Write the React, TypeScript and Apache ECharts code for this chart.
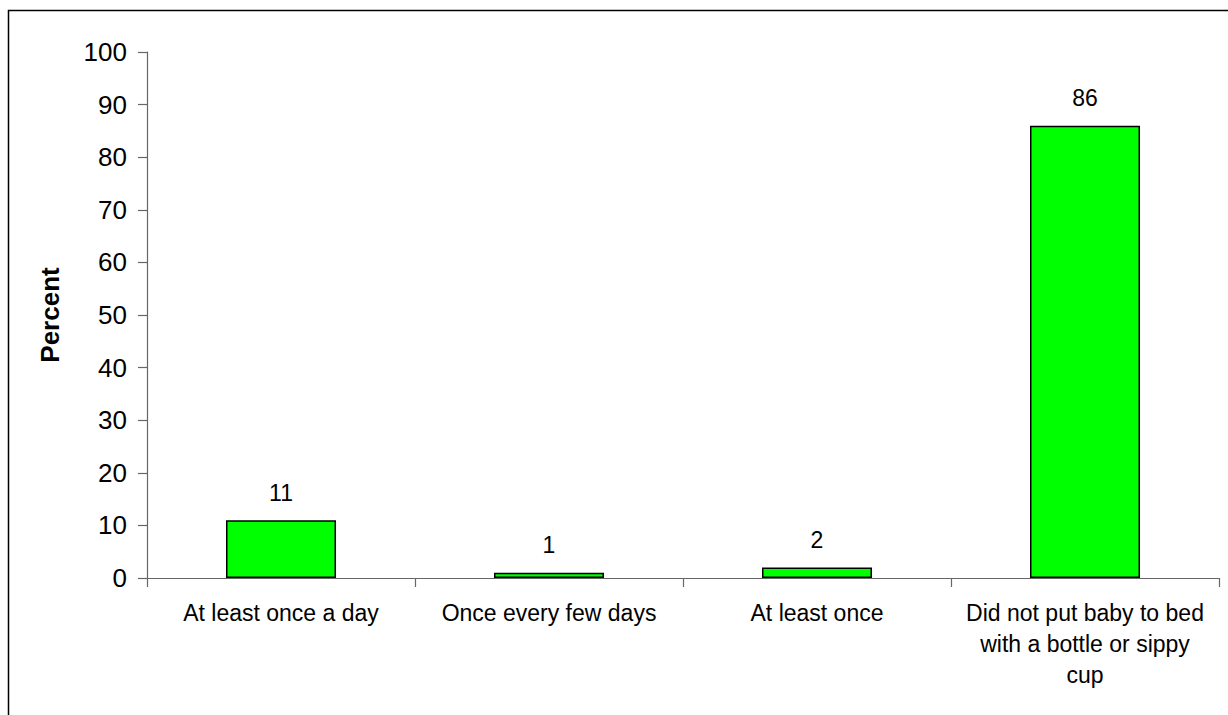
import React, { useEffect, useRef } from "react";
import * as echarts from "echarts";

const categories = [
  "At least once a day",
  "Once every few days",
  "At least once",
  "Did not put baby to bed\nwith a bottle or sippy\ncup",
];
const percentValues = [11, 1, 2, 86];
const yMin = 0;
const yMax = 100;
const yStep = 10;

export default function App() {
  const ref = useRef<HTMLDivElement>(null);

  useEffect(() => {
    if (!ref.current) return;
    const chart = echarts.init(ref.current, null, { renderer: "svg" });
    const font = "'Liberation Sans', Arial, sans-serif";
    chart.setOption({
      animation: false,
      backgroundColor: "#ffffff",
      graphic: [
        {
          type: "rect",
          shape: { x: 8.5, y: 10.5, width: 1240, height: 720 },
          style: { fill: "none", stroke: "#000", lineWidth: 1.5 },
          silent: true,
        },
      ],
      grid: { left: 147, top: 52, right: 9, bottom: 137 },
      xAxis: {
        type: "category",
        data: categories,
        axisLine: { lineStyle: { color: "#666", width: 1.2 } },
        axisTick: { show: true, interval: 0, alignWithLabel: false, length: 9, lineStyle: { color: "#666", width: 1.2 } },
        axisLabel: {
          interval: 0,
          margin: 19,
          color: "#000",
          fontFamily: font,
          fontSize: 23,
          lineHeight: 31,
        },
      },
      yAxis: {
        type: "value",
        min: yMin,
        max: yMax,
        interval: yStep,
        name: "Percent",
        nameLocation: "middle",
        nameGap: 84,
        nameTextStyle: { color: "#000", fontFamily: font, fontSize: 26, fontWeight: "bold" },
        axisLine: { show: true, lineStyle: { color: "#666", width: 1.2 } },
        axisTick: { show: true, length: 9, lineStyle: { color: "#666", width: 1.2 } },
        splitLine: { show: false },
        axisLabel: { margin: 20, color: "#000", fontFamily: font, fontSize: 26 },
      },
      series: [
        {
          type: "bar",
          data: percentValues,
          barWidth: 110,
          itemStyle: { color: "#00ff00", borderColor: "#000", borderWidth: 1.5 },
          label: {
            show: true,
            position: "top",
            distance: 16,
            color: "#000",
            fontFamily: font,
            fontSize: 23,
          },
        },
      ],
    });
    return () => chart.dispose();
  }, []);

  return (
    <div
      ref={ref}
      style={{ position: "fixed", left: 0, top: 0, width: 1228, height: 715 }}
    />
  );
}
